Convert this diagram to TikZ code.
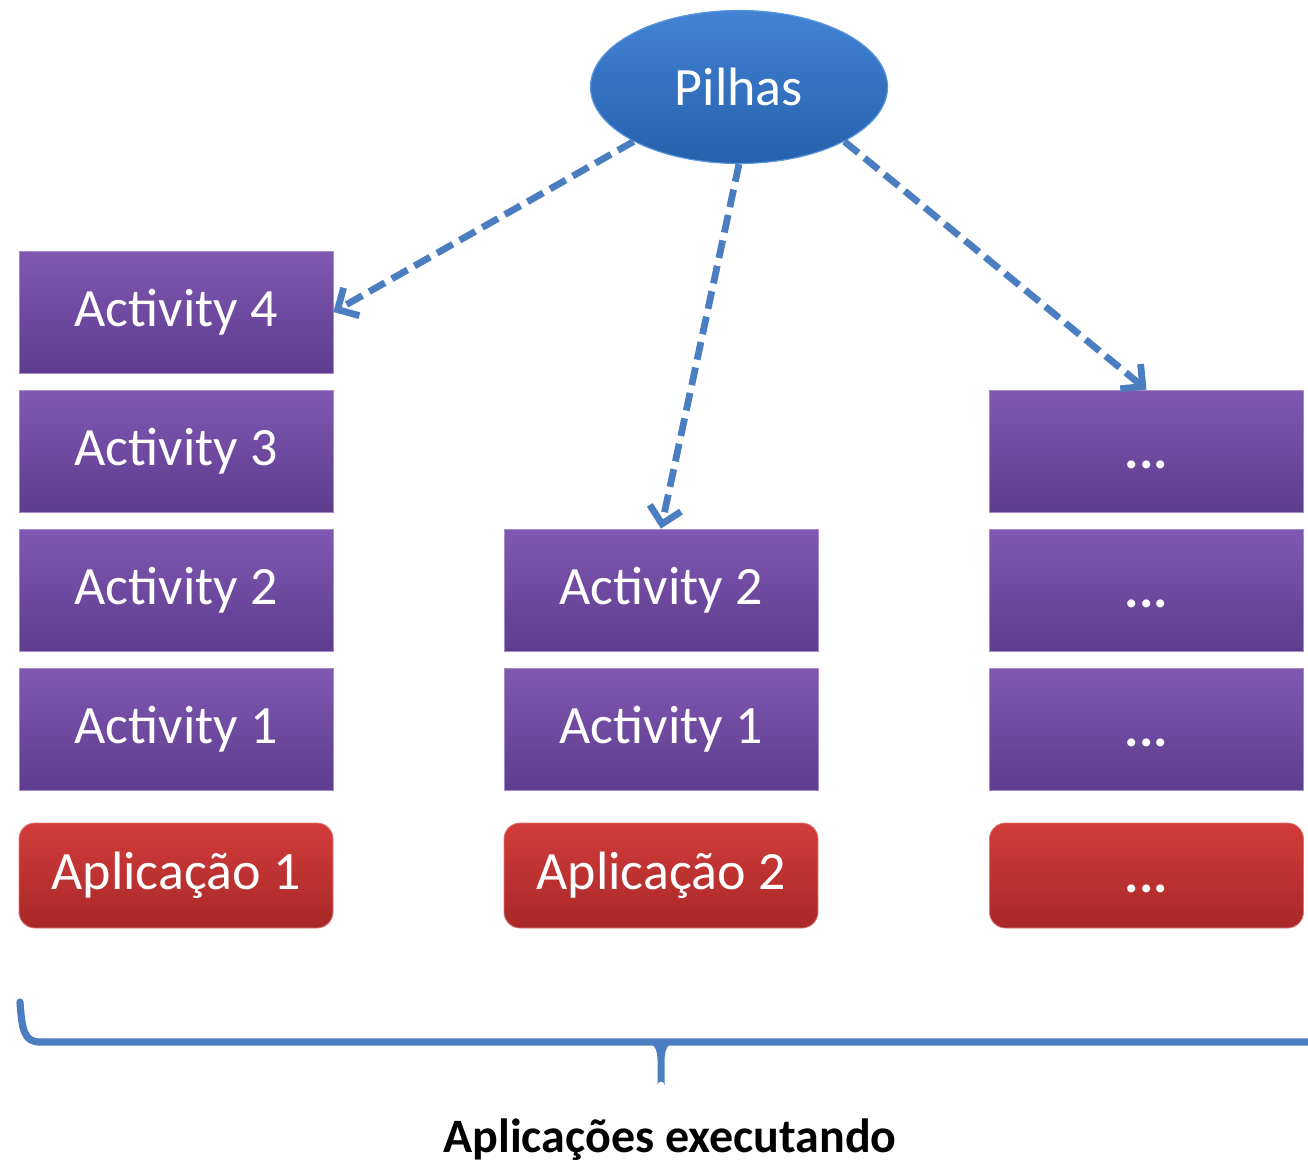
\documentclass[tikz,border=0pt]{standalone}
\usepackage{fontspec}
\setmainfont{Carlito}
\usetikzlibrary{arrows.meta,shapes.geometric}

\definecolor{ovaltop}{RGB}{66,131,212}
\definecolor{ovalbot}{RGB}{38,96,172}
\definecolor{ovaledge}{RGB}{90,150,220}
\definecolor{actop}{RGB}{128,88,178}
\definecolor{acbot}{RGB}{94,60,142}
\definecolor{aptop}{RGB}{210,60,58}
\definecolor{apbot}{RGB}{168,40,40}
\definecolor{linkblue}{RGB}{74,126,192}

\newcommand{\moredots}{\vphantom{A}\textbf{...}}

\tikzset{
  boxtext/.style={text=white,font=\fontsize{27}{30}\selectfont},
  actbox/.style={boxtext,rectangle,minimum width=157pt,minimum height=61pt,
    inner sep=0pt,top color=actop,bottom color=acbot,draw=actop!70!white,line width=0.4pt},
  appbox/.style={boxtext,rectangle,rounded corners=8pt,minimum width=157pt,
    minimum height=52.5pt,inner sep=0pt,top color=aptop,bottom color=apbot,
    draw=aptop!70!white,line width=0.4pt},
  stackbox/.style={boxtext,ellipse,minimum width=148.5pt,minimum height=76.5pt,
    inner sep=0pt,top color=ovaltop,bottom color=ovalbot,draw=ovaledge,line width=0.6pt},
  link/.style={draw=linkblue,line width=3.4pt,dash pattern=on 9pt off 4pt,
    -{Straight Barb[length=8pt,width=16pt,line width=3.4pt]}},
  bracket/.style={draw=linkblue,line width=3.6pt,line cap=round,line join=round}
}

\begin{document}
\begin{tikzpicture}[x=0.5pt,y=-0.5pt]
\useasboundingbox (0,0) rectangle (1308,1167);

% stack holder
\node[stackbox] (pilhas) at (739,87) {Pilhas};

% first application: four activities
\node[actbox] (a4l) at (176,312) {Activity 4};
\node[actbox] (a3l) at (176,451) {Activity 3};
\node[actbox] (a2l) at (176,590) {Activity 2};
\node[actbox] (a1l) at (176,729) {Activity 1};
\node[appbox] (app1) at (176,875.5) {Aplicação 1};

% second application: two activities
\node[actbox] (a2m) at (661,590) {Activity 2};
\node[actbox] (a1m) at (661,729) {Activity 1};
\node[appbox] (app2) at (661,875.5) {Aplicação 2};

% further applications
\node[actbox] (r3) at (1146.5,451) {\moredots};
\node[actbox] (r2) at (1146.5,590) {\moredots};
\node[actbox] (r1) at (1146.5,729) {\moredots};
\node[appbox] (appn) at (1146.5,875.5) {\moredots};

% links from the stack holder to the top of each stack
\draw[link] (pilhas.south west) -- (a4l.east);
\draw[link] (pilhas.south) -- (a2m.north);
\draw[link] (pilhas.south east) -- (r3.north);

% brace under all applications
\draw[bracket] (20,1002) .. controls (22,1030) and (24,1042) .. (40,1042) -- (1312,1042);
\fill[linkblue] (636,1040) .. controls (654,1041) and (657,1047) .. (657.5,1060)
  -- (657.5,1085) arc[start angle=180,end angle=360,x radius=3.5,y radius=3.5]
  -- (664.5,1060) .. controls (665,1047) and (668,1041) .. (686,1040) -- cycle;

\node[font=\bfseries\fontsize{24}{28}\selectfont] (caption) at (670,1140) {Aplicações executando};
\end{tikzpicture}
\end{document}
